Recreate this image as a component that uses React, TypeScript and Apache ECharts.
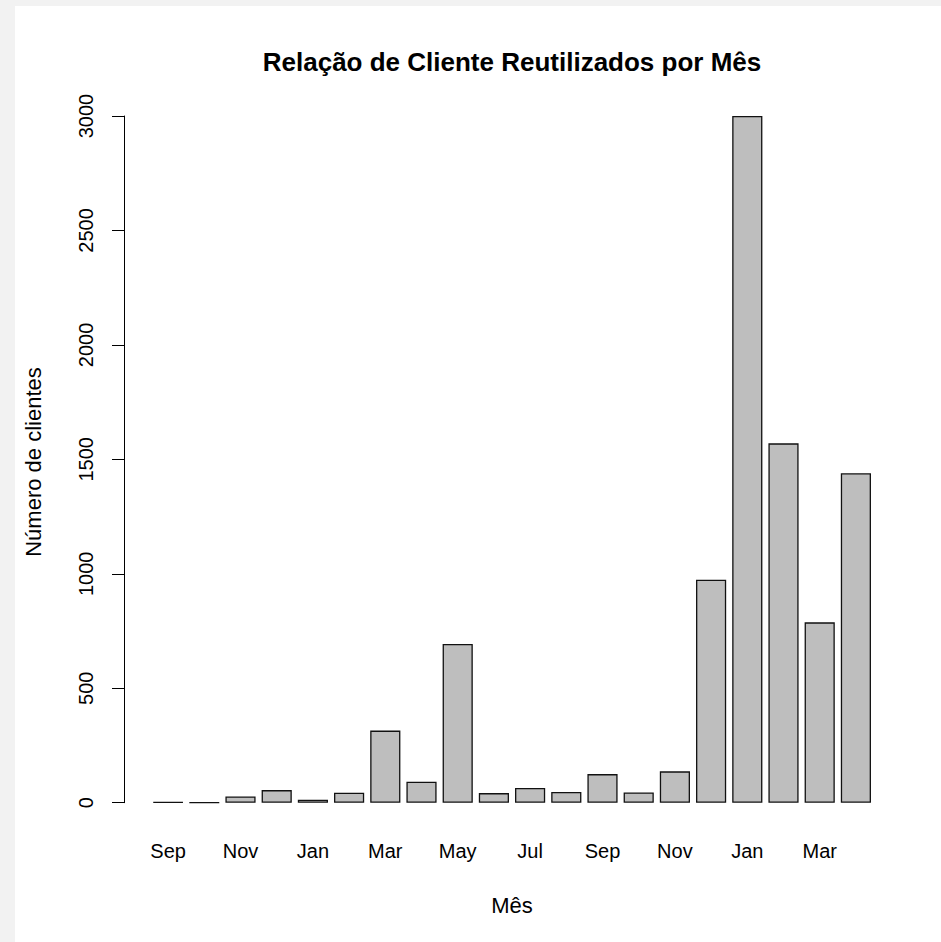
import React, { useEffect, useRef } from "react";
import * as echarts from "echarts";

// Monthly count of returning clients (Sep through Apr of the following year)
const months = [
  "Sep", "Oct", "Nov", "Dec", "Jan", "Feb", "Mar", "Apr", "May", "Jun",
  "Jul", "Aug", "Sep", "Oct", "Nov", "Dec", "Jan", "Feb", "Mar", "Apr",
];
const clientes = [
  2, 1, 27, 55, 13, 44, 315, 92, 693, 42,
  64, 47, 125, 45, 137, 974, 3000, 1570, 788, 1439,
];
const yMin = 0;
const yMax = 3000;
const yStep = 500;

const titleText = "Relação de Cliente Reutilizados por Mês";
const xTitle = "Mês";
const yTitle = "Número de clientes";

const FONT = "'Liberation Sans', Arial, Helvetica, sans-serif";

export default function App() {
  const ref = useRef<HTMLDivElement>(null);

  useEffect(() => {
    if (!ref.current) return;
    const chart = echarts.init(ref.current, undefined, { renderer: "svg" });

    const top = 116;
    const bottom = 942 - 802.7;

    chart.setOption({
      animation: false,
      backgroundColor: "transparent",
      textStyle: { fontFamily: FONT },
      grid: [
        // frame carrying the vertical axis
        { left: 124, right: 41, top, bottom },
        // frame carrying the bars and month labels
        { left: 150, right: 67, top, bottom },
      ],
      xAxis: [
        { gridIndex: 0, type: "value", show: false },
        {
          gridIndex: 1,
          type: "category",
          data: months,
          axisLine: { show: false },
          axisTick: { show: false },
          axisLabel: {
            interval: 1,
            color: "#000",
            fontSize: 20,
            fontFamily: FONT,
            margin: 38,
          },
        },
      ],
      yAxis: [
        {
          gridIndex: 0,
          type: "value",
          min: yMin,
          max: yMax,
          interval: yStep,
          splitLine: { show: false },
          axisLine: { show: true, lineStyle: { color: "#000", width: 1 } },
          axisTick: { show: true, length: 12, lineStyle: { color: "#000", width: 1 } },
          axisLabel: {
            rotate: 90,
            color: "#000",
            fontSize: 20,
            fontFamily: FONT,
            margin: 28,
            formatter: (v: number) => String(v),
          },
        },
        { gridIndex: 1, type: "value", min: yMin, max: yMax, show: false },
      ],
      series: [
        {
          type: "bar",
          xAxisIndex: 1,
          yAxisIndex: 1,
          data: clientes,
          barCategoryGap: "16.67%",
          itemStyle: {
            color: "#bebebe",
            borderColor: "#111",
            borderWidth: 1.3,
          },
        },
      ],
      graphic: [
        {
          type: "text",
          x: 512,
          y: 62,
          style: {
            text: titleText,
            fill: "#000",
            font: `bold 26px ${FONT}`,
            textAlign: "center",
            textVerticalAlign: "middle",
          },
        },
        {
          type: "text",
          x: 512,
          y: 905,
          style: {
            text: xTitle,
            fill: "#000",
            font: `22px ${FONT}`,
            textAlign: "center",
            textVerticalAlign: "middle",
          },
        },
        {
          type: "text",
          x: 33,
          y: 462,
          rotation: Math.PI / 2,
          style: {
            text: yTitle,
            fill: "#000",
            font: `22px ${FONT}`,
            textAlign: "center",
            textVerticalAlign: "middle",
          },
        },
      ],
    });

    return () => chart.dispose();
  }, []);

  return (
    <div
      style={{
        position: "fixed",
        left: 0,
        top: 0,
        width: 941,
        height: 942,
        background: "#f2f2f2",
      }}
    >
      <div
        style={{
          position: "absolute",
          left: 15,
          top: 6,
          right: 0,
          bottom: 0,
          background: "#fff",
        }}
      />
      <div
        ref={ref}
        style={{ position: "absolute", left: 0, top: 0, width: 941, height: 942 }}
      />
    </div>
  );
}
